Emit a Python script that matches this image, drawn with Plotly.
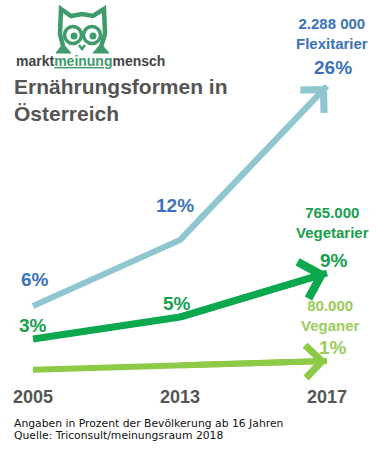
import plotly.graph_objects as go

# ---------------- data ----------------
years = ["2005", "2013", "2017"]
flexitarier = [6, 12, 26]
vegetarier = [3, 5, 9]
veganer = [0.2, 0.6, 1]          # 2005/2013 unlabeled
flex_label = ["6%", "12%", "26%"]
veg_label = ["3%", "5%", "9%"]
vegan_label = ["", "", "1%"]
flex_name = "2.288 000<br>Flexitarier"
veg_name = "765.000<br>Vegetarier"
vegan_name = "80.000<br>Veganer"
title = "Ernährungsformen in<br>Österreich"
footer_lines = ["Angaben in Prozent der Bevölkerung ab 16 Jahren",
                "Quelle: Triconsult/meinungsraum 2018"]

# ---------------- styles ----------------
W, H = 376, 453
PLOT_BOTTOM = 380  # px
FLEX_LINE, FLEX_TEXT = "#8fc6cf", "#3b73b9"
VEG_LINE, VEG_TEXT = "#0ba84e", "#17a04c"
VEGAN_LINE, VEGAN_TEXT = "#8dca45", "#9acd5a"
OWL = "#3f9a6c"
FONT = "Liberation Sans, Arial, sans-serif"

def px(x):
    return x / W

def py(y):
    return (PLOT_BOTTOM - y) / PLOT_BOTTOM

idx = list(range(len(years)))
fig = go.Figure()

series = [
    (flexitarier, FLEX_LINE, FLEX_TEXT, 6, flex_label, flex_name),
    (vegetarier, VEG_LINE, VEG_TEXT, 7, veg_label, veg_name),
    (veganer, VEGAN_LINE, VEGAN_TEXT, 6, vegan_label, vegan_name),
]

for vals, lc, tc, lw, labels, name in series:
    fig.add_trace(go.Scatter(x=idx, y=vals, mode="lines",
                             line=dict(color=lc, width=lw), hoverinfo="skip",
                             showlegend=False))
    # arrow head on the last segment
    fig.add_annotation(x=idx[-1], y=vals[-1], ax=idx[-2], ay=vals[-2],
                       xref="x", yref="y", axref="x", ayref="y",
                       text="", showarrow=True, arrowhead=4, arrowsize=1.05,
                       arrowwidth=lw, arrowcolor=lc)

# value labels
shifts = {
    0: [(2, 27), (-5, 35), (6, 19)],
    1: [(0, 14), (-3, 14), (7, 13)],
    2: [(0, 0), (0, 0), (6, 14)],
}
for s, (vals, lc, tc, lw, labels, name) in enumerate(series):
    for i, (v, lab) in enumerate(zip(vals, labels)):
        if not lab:
            continue
        dx, dy = shifts[s][i]
        fig.add_annotation(x=idx[i], y=v, xref="x", yref="y", text=lab,
                           showarrow=False, xshift=dx, yshift=dy,
                           xanchor="center", yanchor="middle",
                           font=dict(family=FONT, size=19, color=tc, weight="bold"))

# series names
for (name, tc, xc, yc) in [(flex_name, FLEX_TEXT, 332, 33),
                           (veg_name, VEG_TEXT, 332, 222),
                           (vegan_name, VEGAN_TEXT, 330, 315)]:
    fig.add_annotation(x=px(xc), y=py(yc), xref="paper", yref="paper", text=name,
                       showarrow=False, xanchor="center", yanchor="middle",
                       align="center",
                       font=dict(family=FONT, size=15, color=tc, weight="bold"))

# title
fig.add_annotation(x=px(12), y=py(100), xref="paper", yref="paper", text=title,
                   showarrow=False, xanchor="left", yanchor="middle", align="left",
                   font=dict(family=FONT, size=21, color="#555555", weight="bold"))

# logo text
fig.add_annotation(x=px(14), y=py(61), xref="paper", yref="paper",
                   text="markt<span style='color:%s'><u>meinung</u></span>mensch" % OWL,
                   showarrow=False, xanchor="left", yanchor="middle",
                   font=dict(family=FONT, size=14, color="#444444", weight="bold"))

# footer
for line, yc in zip(footer_lines, (423, 435)):
    fig.add_annotation(x=px(12), y=py(yc), xref="paper", yref="paper", text=line,
                       showarrow=False, xanchor="left", yanchor="middle", align="left",
                       font=dict(family="DejaVu Sans, sans-serif", size=10.8, color="#111111"))

# owl logo (decorative)
def path(points, close=False):
    s = "M " + " L ".join("%f,%f" % (px(x), py(y)) for x, y in points)
    return s + (" Z" if close else "")

owl_outline = [(64, 50), (60, 34), (61, 9), (71, 16), (82, 14), (93, 16), (104, 9), (105, 34), (100, 50)]
fig.add_shape(type="path", path=path(owl_outline), xref="paper", yref="paper",
              line=dict(color=OWL, width=4.5), layer="above")
for cx in (73, 92):
    r = 8.5
    fig.add_shape(type="circle", xref="paper", yref="paper",
                  x0=px(cx - r), x1=px(cx + r), y0=py(35 + r), y1=py(35 - r),
                  line=dict(color=OWL, width=3.5), fillcolor="white")
    r2 = 3.5
    fig.add_shape(type="circle", xref="paper", yref="paper",
                  x0=px(cx + 1 - r2), x1=px(cx + 1 + r2), y0=py(36 + r2), y1=py(36 - r2),
                  line=dict(width=0), fillcolor=OWL)
fig.add_shape(type="path", path=path([(79, 45), (82, 49), (85, 45)]), xref="paper", yref="paper",
              line=dict(color=OWL, width=2.5))
fig.add_shape(type="path", path=path([(56, 53), (63, 44), (71, 53)], close=True), xref="paper", yref="paper",
              line=dict(color=OWL, width=1), fillcolor=OWL)
fig.add_shape(type="path", path=path([(93, 53), (101, 44), (109, 53)], close=True), xref="paper", yref="paper",
              line=dict(color=OWL, width=1), fillcolor=OWL)

fig.update_layout(
    width=W, height=H,
    margin=dict(l=0, r=0, t=0, b=H - PLOT_BOTTOM),
    paper_bgcolor="white", plot_bgcolor="white",
    showlegend=False,
    xaxis=dict(range=[-33 / 147, (W - 33) / 147], tickmode="array", tickvals=idx,
               ticktext=years, showgrid=False, zeroline=False, showline=False,
               ticks="", fixedrange=True, ticklabelstandoff=4,
               tickfont=dict(family=FONT, size=18, color="#555555", weight="bold")),
    yaxis=dict(range=[(372 - PLOT_BOTTOM) / 11, 372 / 11], visible=False,
               showgrid=False, zeroline=False, fixedrange=True),
)

fig.write_html("out.html", config={"displayModeBar": False},
               post_script="document.body.style.margin='0';document.body.style.overflow='hidden';")
